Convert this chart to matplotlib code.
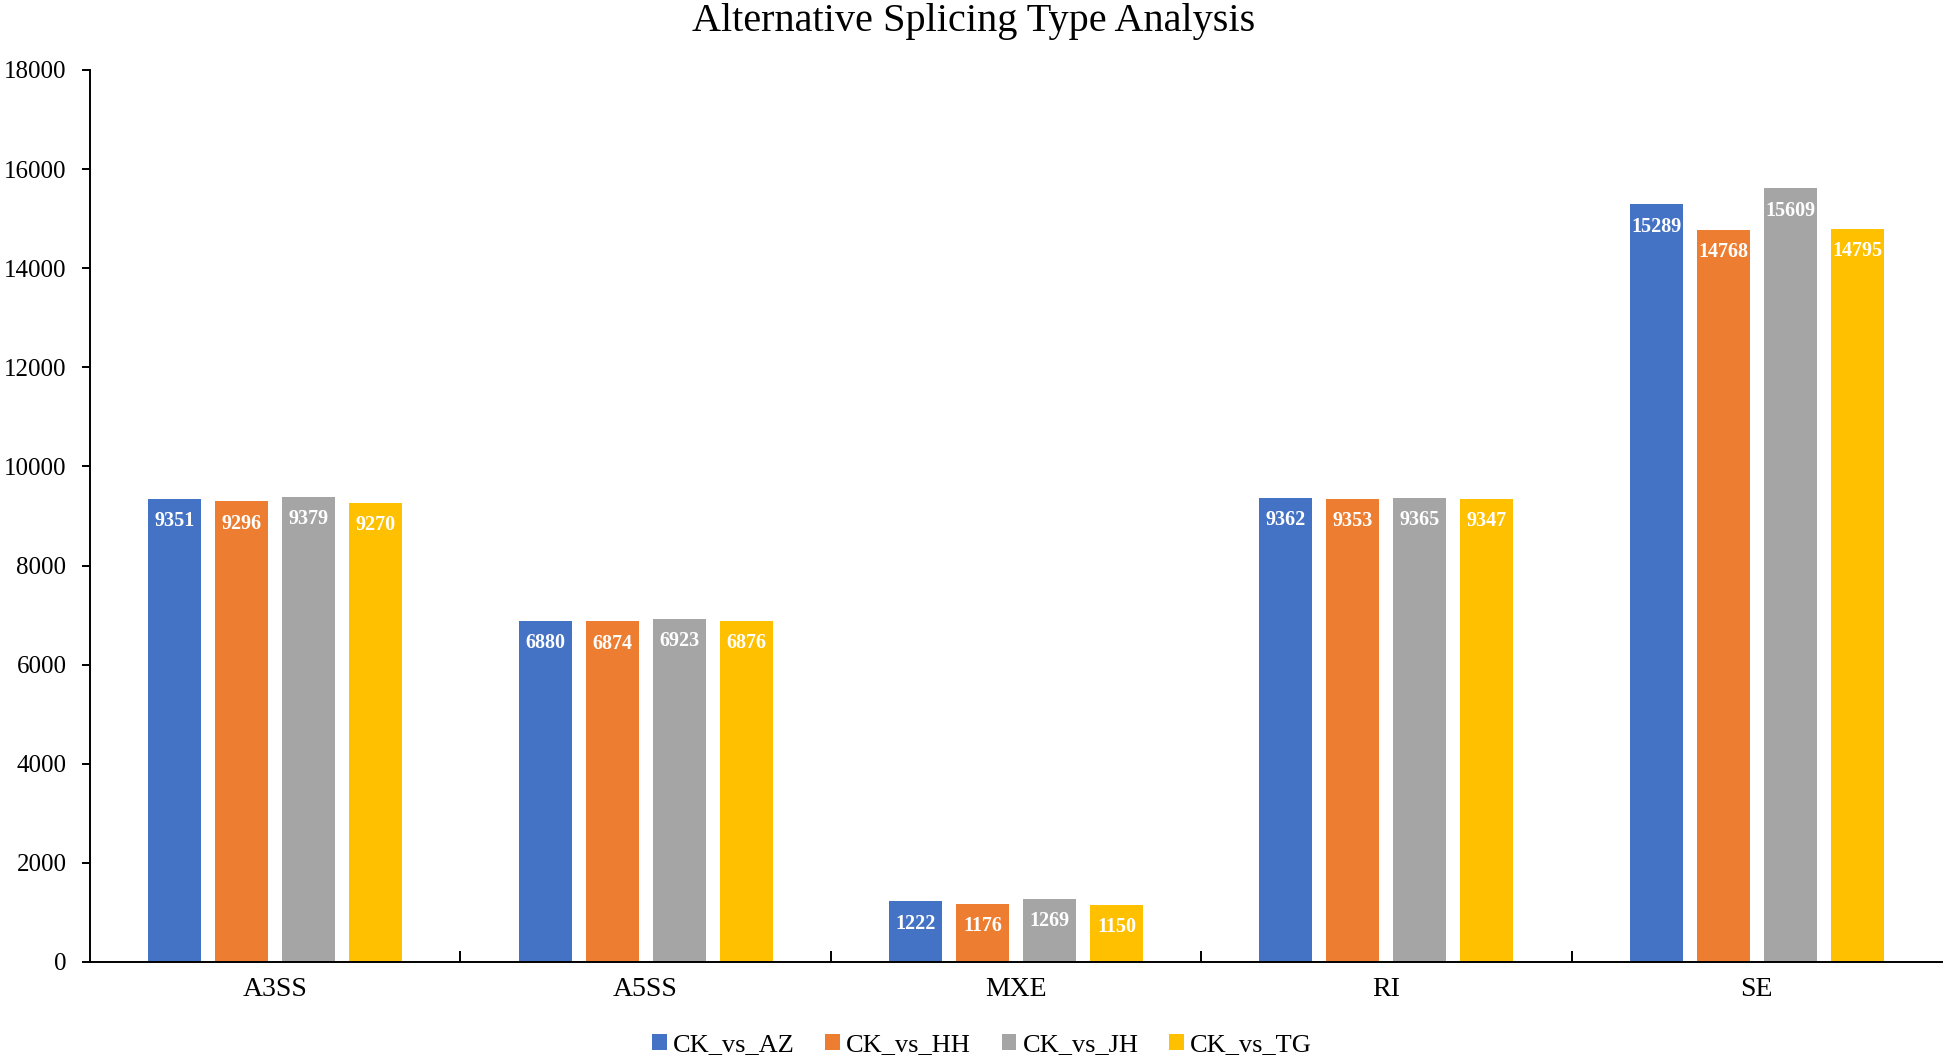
import matplotlib
matplotlib.use("Agg")
import matplotlib.pyplot as plt
import numpy as np

categories = ["A3SS", "A5SS", "MXE", "RI", "SE"]
series_names = ["CK_vs_AZ", "CK_vs_HH", "CK_vs_JH", "CK_vs_TG"]
ck_vs_az = [9351, 6880, 1222, 9362, 15289]
ck_vs_hh = [9296, 6874, 1176, 9353, 14768]
ck_vs_jh = [9379, 6923, 1269, 9365, 15609]
ck_vs_tg = [9270, 6876, 1150, 9347, 14795]
series_values = [ck_vs_az, ck_vs_hh, ck_vs_jh, ck_vs_tg]
colors = ["#4472C4", "#ED7D31", "#A5A5A5", "#FFC000"]
yticks = [0, 2000, 4000, 6000, 8000, 10000, 12000, 14000, 16000, 18000]

plt.rcParams['font.family'] = ['Liberation Serif', 'DejaVu Serif']

fig = plt.figure(figsize=(19.44, 10.62), dpi=100)
ax = fig.add_axes([90/1944, 1-962/1062, (1942-90)/1944, (962-70)/1062])

x = np.arange(len(categories))
bw = 0.143
pitch = 0.181
for i, (name, vals, c) in enumerate(zip(series_names, series_values, colors)):
    pos = x + (i - 1.5) * pitch
    bars = ax.bar(pos, vals, width=bw, color=c, label=name)
    for b, v in zip(bars, vals):
        ax.annotate(str(v), (b.get_x() + b.get_width()/2, v), xytext=(0, -16),
                    textcoords='offset points', ha='center', va='center',
                    color='white', fontweight='bold', fontsize=14.5)

ax.set_xlim(-0.5, len(categories) - 0.5)
ax.set_ylim(0, 18000)
ax.set_yticks(yticks)
ax.set_yticklabels([str(t) for t in yticks], fontsize=18)
ax.set_xticks(x)
ax.set_xticklabels(categories, fontsize=20)
ax.set_xticks(x[:-1] + 0.5, minor=True)
ax.tick_params(axis='x', which='major', length=0, pad=11)
ax.tick_params(axis='x', which='minor', direction='in', length=8, width=1.4)
ax.tick_params(axis='y', direction='out', length=6, width=1.4, pad=11)
for s in ['top', 'right']:
    ax.spines[s].set_visible(False)
for s in ['left', 'bottom']:
    ax.spines[s].set_linewidth(1.4)

fig.suptitle("Alternative Splicing Type Analysis", fontsize=29, x=974/1944, y=1-22/1062, va='center')

fig.legend(loc='center', bbox_to_anchor=(982/1944, 1-1045/1062), ncol=4, frameon=False,
           fontsize=19, handlelength=0.55, handleheight=0.55, handletextpad=0.25,
           columnspacing=1.15)

fig.savefig("out.png", dpi=100)
